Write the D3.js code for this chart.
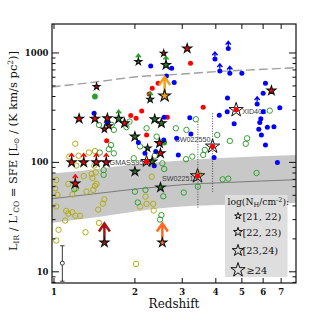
<!DOCTYPE html>
<html><head><meta charset="utf-8">
<script src="https://cdn.jsdelivr.net/npm/d3@7"></script>
<style>body{margin:0;background:#fff}svg{display:block}</style>
</head><body><svg id="c" width="314" height="324"></svg>
<script>
// ---------- data ----------
const xTicks = [1, 2, 3, 4, 5, 6, 7];
const yMajor = [10, 100, 1000];
const yMinor = [8, 9, 20, 30, 40, 50, 60, 70, 80, 90, 200, 300, 400, 500, 600, 700, 800, 900];

const bandZ   = [0.98, 1.5, 2, 2.5, 3, 4.4, 8];
const bandMid = [46.5, 52.5, 57, 60, 62.5, 65.5, 69.5];
const bandUp  = [79, 88, 96, 101, 104, 110, 117];
const bandLo  = [28, 32, 35.5, 38, 39.5, 41, 42.5];

const dashZ = [0.98, 1.5, 2, 3, 4, 6, 8];
const dashV = [489, 551, 604, 642, 675, 709, 735];

const yellowOpen = [[1.20,148],[1.14,113],[1.235,115],[1.35,123],[1.42,127],[1.21,93.5],[1.41,93.5],[1.29,75],[1.38,78.5],[1.39,72],[1.43,81],[1.02,69],[1.13,63.6],[1.32,54],[1.42,61],[1.44,63.6],[1.40,56],[1.03,50.5],[1.17,51],[1.21,58],[1.02,39.5],[1.11,36],[1.13,34],[1.17,35],[1.20,32.5],[1.25,32.5],[1.46,37],[1.52,42],[1.54,46],[1.10,29.4],[1.04,24.2],[1.47,28],[1.31,23],[1.02,19.3],[2.02,11.8],[2.31,74],[2.19,48.7],[2.09,39.5],[2.21,41.8],[2.34,41.8],[2.35,36.3],[3.46,78.5],[1.01,58]];

const greenOpen = [[1.47,220],[1.64,220],[1.67,198],[1.91,236],[1.86,210],[1.63,144],[1.60,132],[1.67,121],[1.48,123],[1.53,77],[1.53,85],[1.19,57],[2.21,205],[2.41,172],[2.37,115],[2.53,98],[2.57,87],[2.84,205],[3.11,198],[3.37,248],[3.10,107],[3.27,113],[3.59,117],[3.64,130],[4.05,178],[4.51,157],[5.23,166],[5.17,148],[6.35,297],[5.67,80],[4.24,70],[4.45,71],[3.43,60],[3.04,53],[2.55,49],[2.0,54],[2.05,43],[2.19,56],[2.51,33],[2.48,30],[1.98,109],[2.09,140]];

const greenFilled = [[1.42,400],[2.57,152]];

const redDots = [[3.22,805],[2.44,528],[2.32,476],[2.26,422],[1.93,268],[2.02,253],[2.12,295],[2.21,178],[1.57,158],[3.59,319],[2.64,258],[4.76,302],[3.89,140],[3.42,75],[2.21,102]];

// [z, SFE, lowerLimit]
const blueDots = [[2.29,761,0],[2.74,724,0],[2.80,536,0],[2.62,617,0],[1.41,281,0],[1.58,228,0],[2.06,152,0],[2.18,121,0],[2.39,126,0],[2.56,160,0],[2.57,258,0],[2.86,166,0],[3.20,256,0],[2.90,117,0],[2.36,93,0],[3.23,182,0],[3.97,881,1],[4.45,1100,1],[4.14,685,1],[4.51,652,1],[5.0,652,0],[6.12,528,0],[6.0,428,0],[5.70,342,1],[4.42,388,0],[4.41,291,0],[4.12,270,0],[4.68,225,0],[6.92,315,0],[6.0,291,0],[5.88,251,0],[5.83,231,0],[5.78,201,0],[5.91,178,0],[6.22,210,0],[6.58,212,0],[6.12,144,0],[6.78,100,0],[3.94,111,0]];

// X-ray sources: nh = log(NH) class 1..4, lim: 1 lower limit, 2 lower limit (highlighted)
const starZ    = [2.56,3.13,1.44,1.24,1.42,1.58,1.60,1.54,1.83,2.47,2.49,1.163,1.29,1.437,1.565,1.20,6.44, 2.06,2.61,2.28,2.37,2.51,1.74,2.0,2.23,2.32,2.0,2.49, 2.58,2.53,1.54, 4.76,3.89,3.42,2.21];
const starV    = [993,1100,493,251,251,253,215,201,228,150,121,100,100,100,100,64,453, 833,777,377,248,228,250,172,135,102,82.5,59, 405,18.5,18.5, 302,140,75,102];
const starNH   = [1,2,1,2,2,2,1,1,2,2,2,2,2,2,2,2,2, 1,2,1,2,2,2,2,1,2,2,2, 3,2,2, 4,4,4,3];
const starKind = ['red','red','red','red','red','red','red','red','red','red','red','red','red','red','red','red','red',
  'green','green','green','green','green','green','green','green','green','green','green',
  'orange','orangeRed','darkRed','open','open','open','open'];
const starLim  = [0,0,0,0,0,0,0,0,0,0,0,1,1,1,1,1,0, 1,1,1,0,0,1,0,0,0,0,0, 2,2,2, 0,0,0,0];
const starName = ['','','','','','','','','','','','','','','','','', '','','','','','','','','','','', '','','', 'XID403','SW022550','SW022513','GMASS953'];

const rangeZ  = [3.43, 3.89];
const rangeLo = [38, 54];
const rangeHi = [236, 281];

const errPoint = {z: 1.074, v: 12, lo: 8.2, hi: 17.3};
const nhLabels = ['[21, 22)', '[22, 23)', '[23,24)', '\u226524'];

// ---------- drawing ----------
const L = 52, R = 296, T = 24, B = 283;
const x = d3.scaleLog().domain([0.983, 7.95]).range([L, R]);
const y = d3.scaleLog().domain([7.9, 1840]).range([B, T]);
const svg = d3.select('#c');
const serif = "'DejaVu Serif', serif";
const sans = "'Liberation Sans', Arial, sans-serif";

svg.append('defs').append('clipPath').attr('id', 'clip')
  .append('rect').attr('x', L).attr('y', T).attr('width', R - L).attr('height', B - T);
const plot = svg.append('g').attr('clip-path', 'url(#clip)');

// band
const band = bandZ.map((z, i) => ({z, m: bandMid[i], u: bandUp[i], l: bandLo[i]}));
plot.append('path').datum(band)
  .attr('d', d3.area().x(d => x(d.z)).y0(d => y(d.l)).y1(d => y(d.u)).curve(d3.curveMonotoneX))
  .attr('fill', '#c8c8c8');
plot.append('path').datum(band)
  .attr('d', d3.line().x(d => x(d.z)).y(d => y(d.m)).curve(d3.curveMonotoneX))
  .attr('fill', 'none').attr('stroke', '#7a7a7a').attr('stroke-width', 1);

// dashed curve
plot.append('path').datum(dashZ.map((z, i) => [z, dashV[i]]))
  .attr('d', d3.line().x(d => x(d[0])).y(d => y(d[1])).curve(d3.curveMonotoneX))
  .attr('fill', 'none').attr('stroke', '#a0a0a0').attr('stroke-width', 1.4).attr('stroke-dasharray', '9,4');

// dotted ranges
rangeZ.forEach((z, i) => {
  plot.append('line').attr('x1', x(z)).attr('x2', x(z)).attr('y1', y(rangeHi[i])).attr('y2', y(rangeLo[i]))
    .attr('stroke', '#222').attr('stroke-width', 0.8).attr('stroke-dasharray', '1,1.5');
});

// source labels
const labelStyle = {XID403: ['start', 6, 4.5], SW022550: ['end', -2, -4], SW022513: ['end', 0, 4.5], GMASS953: ['end', 1, 3.5]};
starName.forEach((n, i) => {
  if (!n) return;
  const s = labelStyle[n];
  plot.append('text').attr('x', x(starZ[i]) + s[1]).attr('y', y(starV[i]) + s[2])
    .attr('text-anchor', s[0]).attr('font-family', sans).attr('font-size', 7.2).attr('fill', '#3a3a3a').text(n);
});

// open circles
plot.selectAll('.yo').data(yellowOpen).join('circle')
  .attr('cx', d => x(d[0])).attr('cy', d => y(d[1])).attr('r', 2.7)
  .attr('fill', 'none').attr('stroke', '#b3ae10').attr('stroke-width', 1);
plot.selectAll('.go').data(greenOpen).join('circle')
  .attr('cx', d => x(d[0])).attr('cy', d => y(d[1])).attr('r', 2.7)
  .attr('fill', 'none').attr('stroke', '#33a033').attr('stroke-width', 1);

// error bar
const eg = plot.append('g').attr('stroke', '#222').attr('stroke-width', 0.9).attr('fill', 'none');
eg.append('line').attr('x1', x(errPoint.z)).attr('x2', x(errPoint.z)).attr('y1', y(errPoint.hi)).attr('y2', y(errPoint.lo));
[errPoint.hi, errPoint.lo].forEach(v => eg.append('line').attr('x1', x(errPoint.z) - 2.2).attr('x2', x(errPoint.z) + 2.2).attr('y1', y(v)).attr('y2', y(v)));
eg.append('circle').attr('cx', x(errPoint.z)).attr('cy', y(errPoint.v)).attr('r', 2).attr('fill', '#fff');

// arrow helpers
function smallArrow(cx, cy, off, color) {
  const tip = cy - off - 4.5;
  plot.append('path').attr('d', `M${cx},${cy - off}L${cx},${tip}M${cx - 2.6},${tip + 3.2}L${cx},${tip}L${cx + 2.6},${tip + 3.2}`)
    .attr('fill', 'none').attr('stroke', color).attr('stroke-width', 1.4);
}
function bigArrow(cx, cy, c1) {
  const tip = cy - 19;
  plot.append('path').attr('d', `M${cx},${cy - 4}L${cx},${tip + 1}M${cx - 5.5},${tip + 8}L${cx},${tip}L${cx + 5.5},${tip + 8}`)
    .attr('fill', 'none').attr('stroke', c1).attr('stroke-width', 2.5).attr('stroke-linejoin', 'miter');
}

// filled dots
const dotR = 2.5;
plot.selectAll('.gf').data(greenFilled).join('circle')
  .attr('cx', d => x(d[0])).attr('cy', d => y(d[1])).attr('r', 2.9).attr('fill', '#2e9e2e');
plot.selectAll('.rd').data(redDots).join('circle')
  .attr('cx', d => x(d[0])).attr('cy', d => y(d[1])).attr('r', dotR).attr('fill', '#f00');
blueDots.forEach(d => { if (d[2]) smallArrow(x(d[0]), y(d[1]), 2.5, '#0000ff'); });
plot.selectAll('.bd').data(blueDots).join('circle')
  .attr('cx', d => x(d[0])).attr('cy', d => y(d[1])).attr('r', dotR).attr('fill', '#0000ff');

// stars
const starR = [0, 3.5, 4.7, 6.1, 7.5];
const fillOf = {red: '#ff0000', green: '#237f23', orange: '#f4a21c', orangeRed: '#ff6a1e', darkRed: '#a51515', open: 'none'};
const arrowOf = {red: '#ff0000', green: '#2e9e2e', orange: '#f0a020', orangeRed: '#ff6a1e', darkRed: '#a51515'};
const star = r => d3.symbol().type(d3.symbolStar).size(r * r / 0.8908)();
starZ.forEach((z, i) => {
  const cx = x(z), cy = y(starV[i]), r = starR[starNH[i]], k = starKind[i];
  if (starLim[i] === 1) smallArrow(cx, cy, r - 0.5, arrowOf[k]);
  if (starLim[i] === 2) bigArrow(cx, cy, arrowOf[k]);
  plot.append('path').attr('d', star(r)).attr('transform', `translate(${cx},${cy})`)
    .attr('fill', fillOf[k]).attr('stroke', '#111').attr('stroke-width', k === 'open' ? 1 : 1.15)
    .attr('stroke-linejoin', 'miter');
});
starZ.forEach((z, i) => {
  if (starKind[i] === 'open') plot.append('circle').attr('cx', x(z)).attr('cy', y(starV[i])).attr('r', dotR).attr('fill', '#f00');
});

// legend
const lg = svg.append('g');
lg.append('rect').attr('x', 225).attr('y', 195).attr('width', 62.5).attr('height', 82).attr('fill', '#dedede');
const lt = lg.append('text').attr('x', 227.5).attr('y', 205).attr('font-family', serif).attr('font-size', 9.2).attr('fill', '#111');
lt.append('tspan').text('log(N');
lt.append('tspan').attr('font-size', 6.5).attr('dy', 2).text('H');
lt.append('tspan').attr('dy', -2).text('/cm');
lt.append('tspan').attr('font-size', 6.5).attr('dy', -3.5).text('-2');
lt.append('tspan').attr('dy', 3.5).text('):');
const legY = [216, 232, 250.5, 270];
nhLabels.forEach((t, i) => {
  lg.append('path').attr('d', star(starR[i + 1])).attr('transform', `translate(238,${legY[i]})`)
    .attr('fill', 'none').attr('stroke', '#111').attr('stroke-width', 1);
  lg.append('text').attr('x', i === 3 ? 246.5 : 242.5).attr('y', legY[i] + 3.5)
    .attr('font-family', serif).attr('font-size', 9.8).attr('fill', '#111').text(t);
});

// frame & ticks
const ax = svg.append('g').attr('stroke', '#111').attr('stroke-width', 1);
ax.append('rect').attr('x', L).attr('y', T).attr('width', R - L).attr('height', B - T).attr('fill', 'none').attr('stroke-width', 1.2);
xTicks.forEach(t => {
  const px = x(t);
  ax.append('line').attr('x1', px).attr('x2', px).attr('y1', B).attr('y2', B - 5);
  ax.append('line').attr('x1', px).attr('x2', px).attr('y1', T).attr('y2', T + 5);
});
yMajor.forEach(t => {
  const py = y(t);
  ax.append('line').attr('x1', L).attr('x2', L + 7).attr('y1', py).attr('y2', py);
  ax.append('line').attr('x1', R).attr('x2', R - 7).attr('y1', py).attr('y2', py);
});
yMinor.forEach(t => {
  const py = y(t);
  ax.append('line').attr('x1', L).attr('x2', L + 3.5).attr('y1', py).attr('y2', py);
  ax.append('line').attr('x1', R).attr('x2', R - 3.5).attr('y1', py).attr('y2', py);
});
const tg = svg.append('g').attr('font-family', serif).attr('font-size', 8.5).attr('font-weight', 'bold').attr('fill', '#111');
xTicks.forEach(t => tg.append('text').attr('x', x(t)).attr('y', 295).attr('text-anchor', 'middle').text(t));
yMajor.forEach(t => tg.append('text').attr('x', 48.5).attr('y', y(t) + 3).attr('text-anchor', 'end').text(t));

// axis titles
svg.append('text').attr('x', 174).attr('y', 308).attr('text-anchor', 'middle')
  .attr('font-family', serif).attr('font-size', 12).attr('fill', '#111').text('Redshift');
const yl = svg.append('text').attr('transform', 'translate(16.5,151) rotate(-90)').attr('text-anchor', 'middle')
  .attr('font-family', serif).attr('font-size', 11.5).attr('fill', '#111');
const parts = [['L',0],['IR',1],[' / L\'',0],['CO',1],[' = SFE [L',0],['\u2299',1],[' / (K km/s pc',0],['2',2],[')]',0]];
let prev = 0;
parts.forEach(([t, k]) => {
  const off = k === 1 ? 2.5 : k === 2 ? -4 : 0;
  const sp = yl.append('tspan').attr('dy', off - prev).text(t);
  if (k) sp.attr('font-size', 7.5);
  prev = off;
});
</script></body></html>
